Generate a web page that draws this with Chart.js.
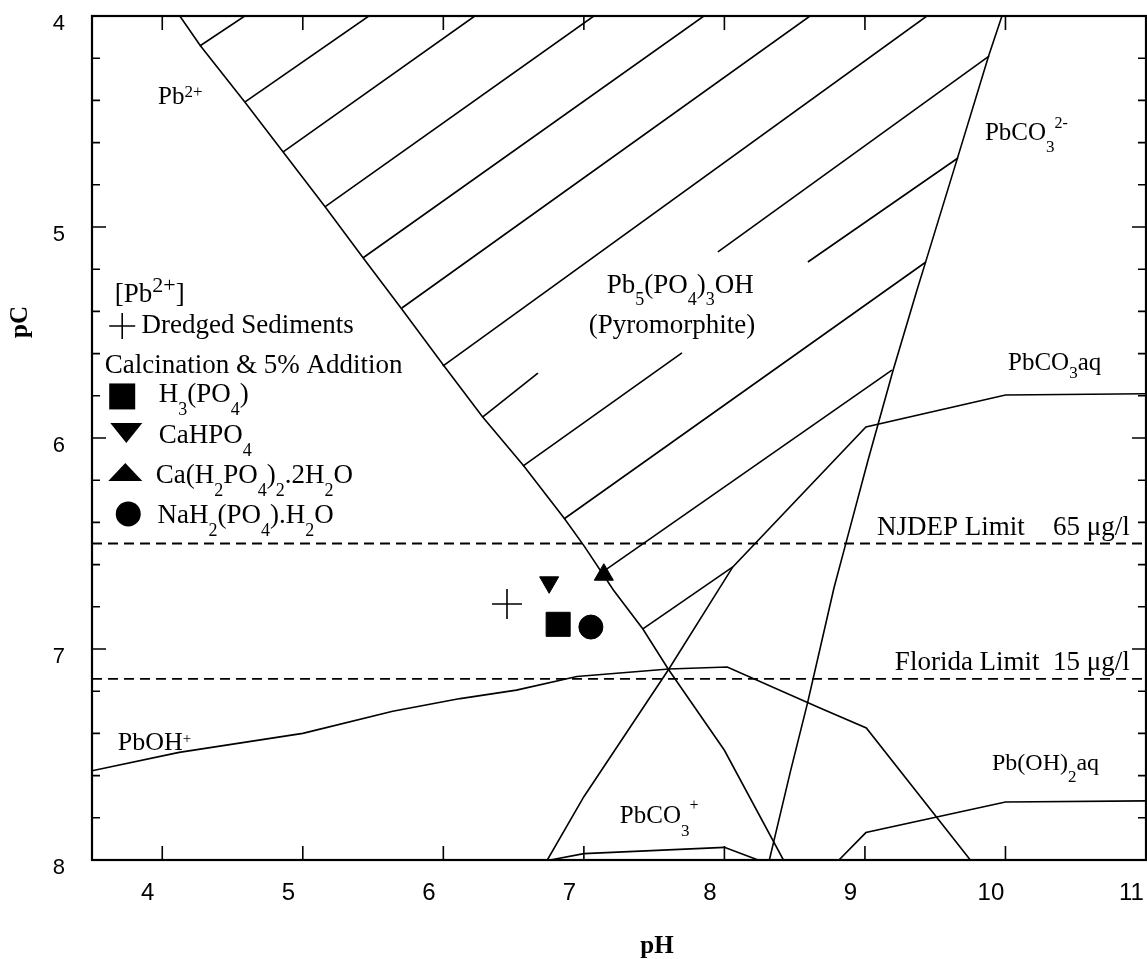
<!DOCTYPE html>
<html><head><meta charset="utf-8">
<script src="https://cdn.jsdelivr.net/npm/chart.js@4.4.1/dist/chart.umd.min.js"></script>
<style>html,body{margin:0;padding:0;background:#fff;}canvas{display:block;}</style>
</head><body>
<canvas id="c" width="1147" height="959"></canvas>
<script>
// ---------- axis ticks ----------
const xTickValues = [4, 5, 6, 7, 8, 9, 10, 11];
const yTickValues = [4, 5, 6, 7, 8];
const yMinorTicks = [4.2,4.4,4.6,4.8,5.2,5.4,5.6,5.8,6.2,6.4,6.6,6.8,7.2,7.4,7.6,7.8];

// ---------- boundary lines (pH, pC) ----------
const pb2BoundaryPH = [4.125, 4.27, 4.59, 4.86, 5.16, 5.43, 5.70, 6.00, 6.28, 6.57, 6.86, 7.00, 7.21, 7.42, 7.60, 8.00, 8.42];
const pb2BoundaryPC = [4.00, 4.14, 4.41, 4.645, 4.905, 5.147, 5.385, 5.654, 5.90, 6.13, 6.38, 6.51, 6.72, 6.905, 7.095, 7.48, 8.00];

const carbonatePH = [8.32, 8.47, 8.59, 8.68, 8.78, 8.86, 9.02, 9.20, 9.37, 9.43, 9.66, 9.88, 9.975];
const carbonatePC = [8.00, 7.58, 7.26, 7.00, 6.71, 6.51, 6.11, 5.68, 5.30, 5.17, 4.67, 4.19, 4.00];

const pbco3aqPH = [6.74, 7.00, 7.605, 8.06, 9.007, 10.0, 11.0];
const pbco3aqPC = [8.00, 7.70, 7.095, 6.611, 5.948, 5.796, 5.79];

const pbohPH = [3.5, 4.12, 5.0, 5.64, 6.12, 6.52, 6.95, 7.605, 8.02, 8.68, 9.01, 9.75];
const pbohPC = [7.577, 7.49, 7.40, 7.295, 7.235, 7.195, 7.13, 7.095, 7.085, 7.28, 7.374, 8.00];

const pboh2PH = [8.815, 9.007, 10.0, 11.0];
const pboh2PC = [8.00, 7.87, 7.725, 7.72];

const pbco3pPH = [6.76, 7.00, 8.00, 8.24];
const pbco3pPC = [8.00, 7.97, 7.94, 8.00];

// ---------- regulatory limits ----------
const limitPH = [3.5, 11.0];
const njdepPC = [6.5, 6.5];
const floridaPC = [7.142, 7.142];

// ---------- pyromorphite hatching segments ----------
const hatchStartPH = [4.267, 4.587, 4.858, 5.157, 5.427, 5.705, 5.996, 6.281, 7.954, 6.566, 8.594, 6.858, 7.121, 7.420];
const hatchStartPC = [4.142, 4.408, 4.645, 4.905, 5.147, 5.384, 5.659, 5.900, 5.118, 6.133, 5.166, 6.384, 6.640, 6.905];
const hatchEndPH   = [4.587, 5.470, 6.224, 7.071, 7.854, 8.609, 9.441, 6.673, 9.883, 7.698, 9.662, 9.434, 9.192, 8.060];
const hatchEndPC   = [4.000, 4.000, 4.000, 4.000, 4.000, 4.000, 4.000, 5.692, 4.190, 5.597, 4.673, 5.166, 5.678, 6.611];

// ---------- measured [Pb2+] points ----------
const dredgedPH = [6.453], dredgedPC = [6.787];
const h3po4PH = [6.817],   h3po4PC = [6.883];
const cahpo4PH = [6.753],  cahpo4PC = [6.684];
const cah2po4PH = [7.142], cah2po4PC = [6.648];
const nah2po4PH = [7.050], nah2po4PC = [6.896];

// ---------- helpers ----------
const pts = (xs, ys) => xs.map((x, i) => ({x: x, y: ys[i]}));
const lineDs = (xs, ys, extra) => Object.assign({
  data: pts(xs, ys), showLine: true, borderColor: '#000', borderWidth: 1.6,
  pointRadius: 0, fill: false, tension: 0, order: 2
}, extra || {});
const markDs = (xs, ys, style, r, rot) => ({
  data: pts(xs, ys), showLine: false, pointStyle: style, pointRadius: r,
  pointRotation: rot || 0, pointBackgroundColor: '#000', pointBorderColor: '#000',
  pointBorderWidth: style === 'cross' ? 1.6 : 1, order: 0
});

const datasets = [
  lineDs(pb2BoundaryPH, pb2BoundaryPC),
  lineDs(carbonatePH, carbonatePC),
  lineDs(pbco3aqPH, pbco3aqPC),
  lineDs(pbohPH, pbohPC),
  lineDs(pboh2PH, pboh2PC),
  lineDs(pbco3pPH, pbco3pPC),
  lineDs(limitPH, njdepPC, {borderDash: [10, 6], borderWidth: 1.8}),
  lineDs(limitPH, floridaPC, {borderDash: [10, 6], borderWidth: 1.8})
];
hatchStartPH.forEach((_, i) => {
  datasets.push(lineDs([hatchStartPH[i], hatchEndPH[i]], [hatchStartPC[i], hatchEndPC[i]]));
});
datasets.push(markDs(dredgedPH, dredgedPC, 'cross', 15));
datasets.push(markDs(h3po4PH, h3po4PC, 'rect', 17));
datasets.push(markDs(cahpo4PH, cahpo4PC, 'triangle', 11, 180));
datasets.push(markDs(cah2po4PH, cah2po4PC, 'triangle', 11));
datasets.push(markDs(nah2po4PH, nah2po4PC, 'circle', 12));

// ---------- annotations (text anchored in data units) ----------
const SERIF = '"Liberation Serif", "Times New Roman", serif';
const speciesText = [
  {t: 'Pb^{2+}', ph: 3.97, pc: 4.418, size: 25, sup: 17, supDy: 7},
  {t: 'Pb_5(PO_4)_3OH', ph: 7.162, pc: 5.313, size: 27, sub: 18, subDy: 12},
  {t: '(Pyromorphite)', ph: 7.035, pc: 5.502, size: 27},
  {t: 'PbCO_3^{2-}', ph: 9.854, pc: 4.588, size: 25, sub: 17, subDy: 12, sup: 16, supDy: 12},
  {t: 'PbCO_3aq', ph: 10.018, pc: 5.678, size: 25, sub: 17, subDy: 8},
  {t: 'PbOH^+', ph: 3.683, pc: 7.479, size: 26, sup: 15, supDy: 7},
  {t: 'PbCO_3^+', ph: 7.256, pc: 7.825, size: 25, sub: 17, subDy: 13, sup: 16, supDy: 13},
  {t: 'Pb(OH)_2aq', ph: 9.904, pc: 7.573, size: 24, sub: 17, subDy: 12},
  {t: 'NJDEP Limit', ph: 9.085, pc: 6.46, size: 27},
  {t: '65 \u03bcg/l', ph: 10.338, pc: 6.46, size: 27},
  {t: 'Florida Limit', ph: 9.213, pc: 7.10, size: 27},
  {t: '15 \u03bcg/l', ph: 10.338, pc: 7.10, size: 27}
];
const legendText = [
  {t: '[Pb^{2+}]', ph: 3.662, pc: 5.355, size: 27, sup: 22, supDy: 10},
  {t: 'Dredged Sediments', ph: 3.852, pc: 5.502, size: 27},
  {t: 'Calcination & 5% Addition', ph: 3.591, pc: 5.692, size: 27},
  {t: 'H_3(PO_4)', ph: 3.975, pc: 5.829, size: 27, sub: 18, subDy: 13},
  {t: 'CaHPO_4', ph: 3.975, pc: 6.024, size: 27, sub: 18, subDy: 13},
  {t: 'Ca(H_2PO_4)_2.2H_2O', ph: 3.954, pc: 6.213, size: 27, sub: 18, subDy: 13},
  {t: 'NaH_2(PO_4).H_2O', ph: 3.966, pc: 6.403, size: 27, sub: 18, subDy: 13}
];
const legendSymbols = [
  {shape: 'cross', ph: 3.715, pc: 5.469, w: 26, h: 26},
  {shape: 'square', ph: 3.715, pc: 5.803, w: 26, h: 26},
  {shape: 'down', ph: 3.744, pc: 5.976, w: 32, h: 20},
  {shape: 'up', ph: 3.737, pc: 6.161, w: 34, h: 18},
  {shape: 'circle', ph: 3.758, pc: 6.360, w: 25, h: 25}
];

function parseRich(s) {
  const out = []; let buf = ''; let i = 0;
  while (i < s.length) {
    const c = s[i];
    if (c === '_' || c === '^') {
      if (buf) { out.push({t: buf, m: 0}); buf = ''; }
      let t;
      if (s[i + 1] === '{') { const j = s.indexOf('}', i + 2); t = s.slice(i + 2, j); i = j + 1; }
      else { t = s[i + 1]; i += 2; }
      out.push({t: t, m: c === '_' ? 1 : 2});
    } else { buf += c; i++; }
  }
  if (buf) out.push({t: buf, m: 0});
  return out;
}
function drawRich(ctx, a, x, y) {
  let cx = x;
  ctx.textAlign = 'left'; ctx.textBaseline = 'alphabetic'; ctx.fillStyle = '#000';
  for (const p of parseRich(a.t)) {
    const size = p.m === 0 ? a.size : (p.m === 1 ? a.sub : a.sup);
    const dy = p.m === 0 ? 0 : (p.m === 1 ? a.subDy : -a.supDy);
    ctx.font = size + 'px ' + SERIF;
    ctx.fillText(p.t, cx, y + dy);
    cx += ctx.measureText(p.t).width;
  }
}

const decorPlugin = {
  id: 'decor',
  afterDatasetsDraw(chart) {
    const ctx = chart.ctx, xs = chart.scales.x, ys = chart.scales.y, ca = chart.chartArea;
    ctx.save();
    ctx.strokeStyle = '#000';
    ctx.lineWidth = 2.2;
    ctx.strokeRect(ca.left, ca.top, ca.right - ca.left, ca.bottom - ca.top);
    ctx.lineWidth = 1.6;
    ctx.beginPath();
    xTickValues.forEach(v => {
      const px = xs.getPixelForValue(v);
      ctx.moveTo(px, ca.top); ctx.lineTo(px, ca.top + 14);
      ctx.moveTo(px, ca.bottom); ctx.lineTo(px, ca.bottom - 14);
    });
    yTickValues.forEach(v => {
      const py = ys.getPixelForValue(v);
      ctx.moveTo(ca.left, py); ctx.lineTo(ca.left + 14, py);
      ctx.moveTo(ca.right, py); ctx.lineTo(ca.right - 14, py);
    });
    yMinorTicks.forEach(v => {
      const py = ys.getPixelForValue(v);
      ctx.moveTo(ca.left, py); ctx.lineTo(ca.left + 8, py);
      ctx.moveTo(ca.right, py); ctx.lineTo(ca.right - 8, py);
    });
    ctx.stroke();
    speciesText.concat(legendText).forEach(a => {
      drawRich(ctx, a, xs.getPixelForValue(a.ph), ys.getPixelForValue(a.pc));
    });
    ctx.fillStyle = '#000';
    legendSymbols.forEach(s => {
      const cx = xs.getPixelForValue(s.ph), cy = ys.getPixelForValue(s.pc);
      const hw = s.w / 2, hh = s.h / 2;
      ctx.beginPath();
      if (s.shape === 'cross') {
        ctx.lineWidth = 1.6;
        ctx.moveTo(cx - hw, cy); ctx.lineTo(cx + hw, cy);
        ctx.moveTo(cx, cy - hh); ctx.lineTo(cx, cy + hh);
        ctx.stroke();
      } else if (s.shape === 'square') {
        ctx.rect(cx - hw, cy - hh, s.w, s.h); ctx.fill();
      } else if (s.shape === 'down') {
        ctx.moveTo(cx - hw, cy - hh); ctx.lineTo(cx + hw, cy - hh); ctx.lineTo(cx, cy + hh); ctx.closePath(); ctx.fill();
      } else if (s.shape === 'up') {
        ctx.moveTo(cx - hw, cy + hh); ctx.lineTo(cx + hw, cy + hh); ctx.lineTo(cx, cy - hh); ctx.closePath(); ctx.fill();
      } else if (s.shape === 'circle') {
        ctx.ellipse(cx, cy, hw, hh, 0, 0, Math.PI * 2); ctx.fill();
      }
    });
    ctx.font = 'bold 25px ' + SERIF;
    ctx.textAlign = 'center'; ctx.textBaseline = 'alphabetic';
    ctx.fillText('pH', xs.getPixelForValue(7.52), ca.bottom + 93);
    ctx.translate(27, ys.getPixelForValue(5.45));
    ctx.rotate(-Math.PI / 2);
    ctx.fillText('pC', 0, 0);
    ctx.restore();
  }
};

const noPad = s => { s.paddingTop = 0; s.paddingBottom = 0; s.paddingLeft = 0; s.paddingRight = 0; };

new Chart(document.getElementById('c'), {
  type: 'scatter',
  data: {datasets: datasets},
  options: {
    responsive: false, animation: false, devicePixelRatio: 1,
    layout: {autoPadding: false, padding: {top: 16, right: 1, bottom: 0, left: 0}},
    plugins: {legend: {display: false}, tooltip: {enabled: false}},
    scales: {
      x: {
        type: 'linear', min: 3.5, max: 11,
        afterFit(s) { s.height = 99; noPad(s); },
        afterBuildTicks(s) { s.ticks = xTickValues.map(v => ({value: v})); },
        grid: {display: false, drawTicks: false}, border: {display: false},
        ticks: {color: '#000', font: {family: '"Liberation Sans", Arial, sans-serif', size: 24},
                padding: 19, labelOffset: -14.5, maxRotation: 0, autoSkip: false}
      },
      y: {
        type: 'linear', reverse: true, min: 4, max: 8,
        afterFit(s) { s.width = 92; noPad(s); },
        afterBuildTicks(s) { s.ticks = yTickValues.map(v => ({value: v})); },
        grid: {display: false, drawTicks: false}, border: {display: false},
        ticks: {color: '#000', font: {family: '"Liberation Sans", Arial, sans-serif', size: 22},
                padding: 27, labelOffset: 8}
      }
    }
  },
  plugins: [decorPlugin]
});
</script>
</body></html>
